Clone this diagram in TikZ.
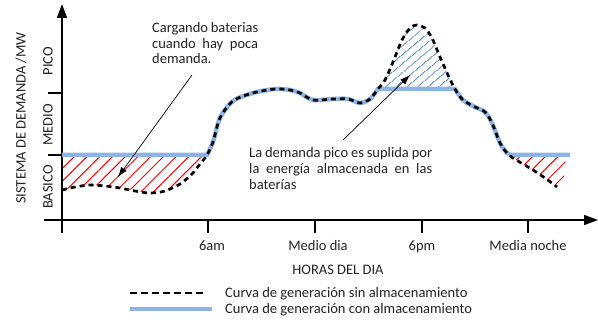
\documentclass[tikz,border=0pt]{standalone}
\usepackage{fontspec}
\setmainfont{Carlito}
\usetikzlibrary{arrows.meta,patterns.meta}
\definecolor{lblue}{RGB}{141,180,226}
\definecolor{hblue}{RGB}{79,129,189}
\definecolor{txt}{RGB}{35,35,35}
\tikzset{
  axisline/.style={line width=1.5pt,black},
  ticklines/.style={line width=1.5pt,black},
  blueline/.style={line width=4.5pt,lblue},
  dashline/.style={line width=2.7pt,black,dash pattern=on 5pt off 4pt},
  legdash/.style={line width=2.7pt,black,dash pattern=on 7pt off 4pt},
  redhatch/.style={pattern={Lines[angle=45,distance=9pt,line width=1pt]},pattern color=red},
  bluehatch/.style={pattern={Lines[angle=40,distance=6.5pt,line width=1pt]},pattern color=hblue},
  lbl/.style={inner sep=0pt,text=txt},
  annot/.style={inner sep=0pt,text=txt,align=justify,anchor=base west},
  pointer/.style={line width=0.7pt,black,-{Latex[length=10pt,width=7pt]}}
}
\begin{document}
\begin{tikzpicture}[x=1pt,y=-1pt,font=\fontsize{14.5}{15.5}\selectfont]
\useasboundingbox (0,0) rectangle (598,320);
% hatched areas
\fill[redhatch] (62,155) -- (207,155) -- plot[smooth] coordinates {(207,155) (200,164) (192,174) (180,184) (165,191) (150,193) (135,191) (120,188) (105,186) (90,185) (75,187) (62,190)} -- cycle;
\fill[bluehatch] plot[smooth] coordinates {(378,89) (385,80) (393,62) (402,40) (410,28) (417,25) (425,28) (432,38) (440,57) (448,75) (455,89)} -- cycle;
\fill[redhatch] (507,155) -- (566,155) -- (564,178) -- (557,187) -- plot[smooth] coordinates {(557,187) (545,178) (533,170) (523,164) (513,158) (507,153)} -- cycle;
% axes
\coordinate (yb) at (62,233);
\coordinate (yt) at (62,4);
\coordinate (xl) at (44,220);
\coordinate (xr) at (598,220);
\draw[axisline,-{Triangle[length=14pt,width=10pt]}] (yb) -- (yt);
\draw[axisline,-{Triangle[length=14pt,width=10pt]}] (xl) -- (xr);
\draw[ticklines] (48,155) -- (62,155) (48,93) -- (62,93);
\draw[ticklines] (208,220) -- (208,233) (315,220) -- (315,233) (422,220) -- (422,233) (528,220) -- (528,233);
% curves
\draw[blueline] (62,155) -- (207,155) -- plot[smooth] coordinates {(207,155) (213,142) (220,118) (233,101) (253,93) (275,89) (290,90) (300,93) (313,100) (333,99) (348,99) (360,103) (370,99) (378,89)} -- (455,89) -- plot[smooth] coordinates {(455,89) (463,100) (475,107) (485,112) (492,123) (500,143) (507,153) (512,155)} -- (570,155);
\draw[dashline] plot[smooth] coordinates {(62,190) (75,187) (90,185) (105,186) (120,188) (135,191) (150,193) (165,191) (180,184) (192,174) (200,164) (207,155) (213,142) (220,118) (233,101) (253,93) (275,89) (290,90) (300,93) (313,100) (333,99) (348,99) (360,103) (370,99) (378,89) (385,80) (393,62) (402,40) (410,28) (417,25) (425,28) (432,38) (440,57) (448,75) (455,89) (463,100) (475,107) (485,112) (492,123) (500,143) (507,153) (513,158) (523,164) (533,170) (545,178) (557,187)};
% axis labels
\node[lbl,rotate=90] (ylab) at (21,118) {SISTEMA DE DEMANDA /MW};
\node[lbl,rotate=90] (basico) at (48,187) {BASICO};
\node[lbl,rotate=90] (medio) at (48,125) {MEDIO};
\node[lbl,rotate=90] (pico) at (48,61) {PICO};
\node[lbl,anchor=base] (t6am) at (212,251) {6am};
\node[lbl,anchor=base] (tmed) at (318,251) {Medio dia};
\node[lbl,anchor=base] (t6pm) at (422,251) {6pm};
\node[lbl,anchor=base] (tnoc) at (528,251) {Media noche};
\node[lbl,anchor=base] (xlab) at (338,275) {HORAS DEL DIA};
% annotations
\node[annot,text width=106pt] (ann1) at (152,33) {\hyphenpenalty=10000 Cargando baterias\linebreak cuando hay poca\linebreak demanda.};
\node[annot,text width=183pt,font=\fontsize{14.5}{16}\selectfont] (ann2) at (249,158) {\hyphenpenalty=10000 La demanda pico es suplida por\linebreak la energía almacenada en las\linebreak baterías};
\coordinate (a1s) at (192,75);
\coordinate (a1e) at (118,177);
\coordinate (a2s) at (343,140);
\coordinate (a2e) at (410,75);
\draw[pointer] (a1s) -- (a1e);
\draw[pointer] (a2s) -- (a2e);
% legend
\coordinate (l1a) at (130,293);
\coordinate (l1b) at (205,293);
\coordinate (l2a) at (130,309);
\coordinate (l2b) at (212,309);
\draw[legdash] (l1a) -- (l1b);
\draw[blueline] (l2a) -- (l2b);
\node[lbl,anchor=base west] (leg1) at (225,298) {Curva de generación sin almacenamiento};
\node[lbl,anchor=base west] (leg2) at (225,314) {Curva de generación con almacenamiento};
\end{tikzpicture}
\end{document}
